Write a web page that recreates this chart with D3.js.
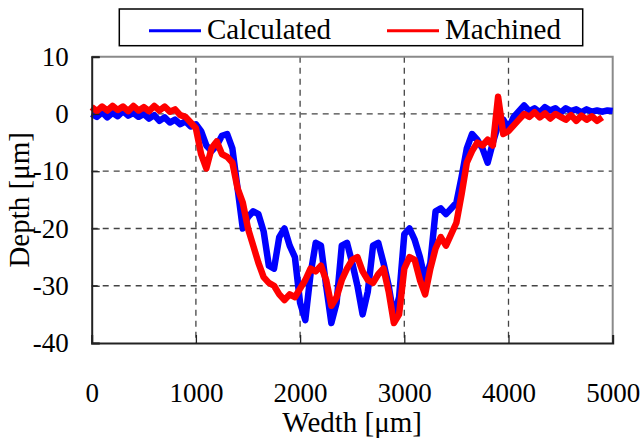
<!DOCTYPE html>
<html>
<head>
<meta charset="UTF-8">
<script src="https://cdn.jsdelivr.net/npm/d3@7/dist/d3.min.js"></script>
<style>
  body { margin: 0; background: #fff; }
  svg text { font-family: "Liberation Serif", "Times New Roman", serif; fill: #000; }
</style>
</head>
<body>
<svg id="chart" width="643" height="441"></svg>
<script>
// x positions in um (step 50)
var step = 50;
var xTicks = [0, 1000, 2000, 3000, 4000, 5000];
var yTicks = [10, 0, -10, -20, -30, -40];
var seriesNames = ["Calculated", "Machined"];
var seriesColors = ["#0000ff", "#ff0000"];

// Calculated depth, 0..5000 um
var calculated = [
  0.0, -0.5, 0.3, -0.6, 0.2, -0.4, 0.5, -0.3, 0.2, -0.5,
  0.0, -0.8, -0.2, -1.2, -0.6, -1.5, -1.0, -1.8, -1.3, -2.2,
  -1.8, -3.0, -5.5, -6.5, -5.5, -3.8, -3.5, -6.0, -13.0, -20.0,
  -18.0, -17.0, -17.5, -20.5, -26.5, -27.0, -21.5, -20.0, -23.0, -25.0,
  -33.0, -36.0, -28.0, -22.5, -23.0, -30.0, -36.5, -33.0, -23.0, -22.5,
  -26.0, -30.0, -35.0, -31.0, -23.0, -22.5, -26.0, -30.0, -35.5, -32.0,
  -21.0, -20.0, -22.0, -25.0, -29.0, -26.0, -17.0, -16.5, -17.5, -16.5,
  -15.5, -11.0, -6.0, -3.5, -4.5, -6.0, -8.5, -5.0, -2.0, -1.0,
  -2.5, -0.5, 0.5, 1.5, 0.5, 1.0, 0.3, 1.2, 0.6, 1.0,
  0.2, 1.0, 0.5, 0.8, 0.3, 0.8, 0.4, 0.6, 0.4, 0.6,
  0.5
];

// Machined depth, 0..4900 um
var machined = [
  1.2, 0.5, 1.3, 0.6, 1.4, 0.7, 1.3, 0.5, 1.4, 0.6,
  1.2, 0.5, 1.4, 0.6, 1.3, 0.4, 0.8, -0.2, -0.5, -1.5,
  -2.5, -7.0, -9.5, -6.0, -4.8, -7.0, -7.5, -8.5, -13.0, -15.5,
  -20.0, -23.0, -26.0, -28.5, -29.5, -30.0, -31.5, -32.5, -31.5, -32.0,
  -30.5, -29.0, -27.0, -27.5, -26.5, -29.0, -33.5, -32.0, -29.0, -27.0,
  -25.5, -25.0, -27.5, -29.0, -29.5, -28.0, -27.0, -31.0, -36.5, -35.0,
  -27.0, -25.0, -25.5, -29.0, -31.5, -27.0, -23.5, -21.5, -23.0, -21.0,
  -19.0, -14.0, -8.5, -6.5, -5.0, -5.5, -4.5, -5.5, 3.0, -3.5,
  -3.0, -2.0, -1.0, 0.0, -0.5, 0.3, -0.6, 0.1, -0.8, 0.0,
  -0.5, -1.0, -0.2, -1.2, -0.3, -1.0, -0.4, -1.2, -0.6
];

var svg = d3.select("#chart");
var pLeft = 91.7, pRight = 612.7, pTop = 56.7, pBottom = 343;
var serif = "Liberation Serif, Times New Roman, serif";

var x = d3.scaleLinear().domain([0, 5000]).range([pLeft, pRight]);
var y = d3.scaleLinear().domain([-40, 10]).range([pBottom, pTop]);

// grid
svg.append("g").selectAll("line")
  .data(xTicks.slice(1, -1))
  .enter().append("line")
  .attr("x1", d => x(d)).attr("x2", d => x(d))
  .attr("y1", pTop).attr("y2", pBottom)
  .attr("stroke", "#444").attr("stroke-width", 1.3)
  .attr("stroke-dasharray", "6,5");

svg.append("g").selectAll("line")
  .data(yTicks.slice(1, -1))
  .enter().append("line")
  .attr("x1", pLeft).attr("x2", pRight)
  .attr("y1", d => y(d)).attr("y2", d => y(d))
  .attr("stroke", "#444").attr("stroke-width", 1.3)
  .attr("stroke-dasharray", "6,5");

// frame: top/right grey
svg.append("path")
  .attr("d", "M" + pLeft + "," + pTop + "H" + pRight + "V" + pBottom)
  .attr("fill", "none").attr("stroke", "#8a8a8a").attr("stroke-width", 2);

// series
var line = d3.line().x((d, i) => x(i * step)).y(d => y(d));

svg.append("path").datum(calculated)
  .attr("d", line).attr("fill", "none")
  .attr("stroke", seriesColors[0]).attr("stroke-width", 6.5)
  .attr("stroke-linejoin", "round");

svg.append("path").datum(machined)
  .attr("d", line).attr("fill", "none")
  .attr("stroke", seriesColors[1]).attr("stroke-width", 6.5)
  .attr("stroke-linejoin", "round");

// axes
var xAxis = d3.axisBottom(x).tickValues(xTicks).tickSize(-8).tickPadding(40).tickFormat(d3.format("d"));
var gx = svg.append("g").attr("transform", "translate(0," + pBottom + ")").call(xAxis)
  .attr("font-family", serif).attr("font-size", 27);
gx.select(".domain").attr("stroke", "#222").attr("stroke-width", 2);
gx.selectAll(".tick line").attr("stroke", "#222").attr("stroke-width", 1.3);
gx.selectAll("text").style("font-family", serif).style("font-size", "27px");

var yAxis = d3.axisLeft(y).tickValues(yTicks).tickSize(-8).tickPadding(23)
  .tickFormat(d => String(d));
var gy = svg.append("g").attr("transform", "translate(" + pLeft + ",0)").call(yAxis)
  .attr("font-family", serif).attr("font-size", 27);
gy.select(".domain").attr("stroke", "#222").attr("stroke-width", 2);
gy.selectAll(".tick line").attr("stroke", "#222").attr("stroke-width", 1.3);
gy.selectAll("text").style("font-family", serif).style("font-size", "27px");

// titles
svg.append("text").attr("x", (pLeft + pRight) / 2).attr("y", 432)
  .attr("text-anchor", "middle").style("font-size", "29px").text("Wedth [μm]");
svg.append("text")
  .attr("transform", "translate(28.5," + (pTop + pBottom) / 2 + ") rotate(-90)")
  .attr("text-anchor", "middle").style("font-size", "29px").text("Depth [μm]");

// legend
svg.append("rect").attr("x", 119.3).attr("y", 9).attr("width", 463.4).attr("height", 36.7)
  .attr("fill", "#fff").attr("stroke", "#000").attr("stroke-width", 1.5);
var legendX = [149, 387];
var lg = svg.append("g").selectAll("g").data(seriesNames).enter().append("g");
lg.append("line")
  .attr("x1", (d, i) => legendX[i]).attr("x2", (d, i) => legendX[i] + 52)
  .attr("y1", 30.7).attr("y2", 30.7)
  .attr("stroke", (d, i) => seriesColors[i]).attr("stroke-width", 3);
lg.append("text")
  .attr("x", (d, i) => legendX[i] + 58).attr("y", 39)
  .style("font-size", "29px").text(d => d);
</script>
</body>
</html>
